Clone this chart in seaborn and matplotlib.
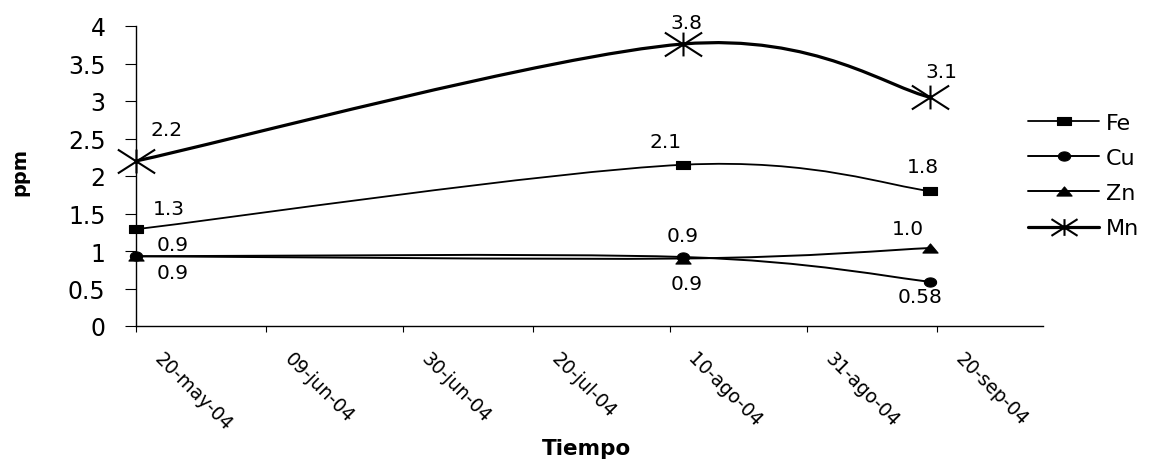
import numpy as np
import pandas as pd
import matplotlib
matplotlib.use("Agg")
import matplotlib.pyplot as plt
import matplotlib.dates as mdates
import matplotlib.transforms as mtrans
from matplotlib.path import Path
from matplotlib.patches import PathPatch
from matplotlib.lines import Line2D
import seaborn as sns

# ---------------- data ----------------
fechas = ["2004-05-20", "2004-08-12", "2004-09-19"]
fe = [1.29, 2.15, 1.80]
cu = [0.93, 0.92, 0.59]
zn = [0.93, 0.90, 1.04]
mn = [2.20, 3.76, 3.05]
etiquetas_fe = ["1.3", "2.1", "1.8"]
etiquetas_cu = ["0.9", "0.9", "0.58"]
etiquetas_zn = ["0.9", "0.9", "1.0"]
etiquetas_mn = ["2.2", "3.8", "3.1"]
tick_fechas = ["2004-05-20", "2004-06-09", "2004-06-30", "2004-07-20",
               "2004-08-10", "2004-08-31", "2004-09-20"]
tick_etiquetas = ["20-may-04", "09-jun-04", "30-jun-04", "20-jul-04",
                  "10-ago-04", "31-ago-04", "20-sep-04"]
y_ticks = [0, 0.5, 1, 1.5, 2, 2.5, 3, 3.5, 4]
y_etiquetas = ["0", "0.5", "1", "1.5", "2", "2.5", "3", "3.5", "4"]
elementos = ["Fe", "Cu", "Zn", "Mn"]

# ---------------- style ----------------
sns.set_theme(style="white")
plt.rcParams["font.family"] = ["DejaVu Sans"]
plt.rcParams["text.color"] = "black"
plt.rcParams["axes.labelcolor"] = "black"
plt.rcParams["xtick.color"] = "black"
plt.rcParams["ytick.color"] = "black"

# custom (horizontally stretched) markers
sq = Path([(-1, -0.6), (1, -0.6), (1, 0.6), (-1, 0.6), (-1, -0.6)],
          [Path.MOVETO, Path.LINETO, Path.LINETO, Path.LINETO, Path.CLOSEPOLY])
t = np.linspace(0, 2 * np.pi, 40)
circ = Path(np.column_stack([np.cos(t), 0.75 * np.sin(t)]))
tri = Path([(-1, -0.6), (1, -0.6), (0, 0.6), (-1, -0.6)],
           [Path.MOVETO, Path.LINETO, Path.LINETO, Path.CLOSEPOLY])
star = Path([(-1, -0.64), (1, 0.64), (-1, 0.64), (1, -0.64), (0, -0.64), (0, 0.64)],
            [Path.MOVETO, Path.LINETO, Path.MOVETO, Path.LINETO, Path.MOVETO, Path.LINETO])

estilos = {
    "Fe": dict(marker=sq, s=100, lw=1.3, filled=True),
    "Cu": dict(marker=circ, s=78, lw=1.4, filled=True),
    "Zn": dict(marker=tri, s=120, lw=1.4, filled=True),
    "Mn": dict(marker=star, s=720, lw=2.3, filled=False),
}

x = pd.to_datetime(fechas)
series = {"Fe": fe, "Cu": cu, "Zn": zn, "Mn": mn}
etiquetas = {"Fe": etiquetas_fe, "Cu": etiquetas_cu, "Zn": etiquetas_zn, "Mn": etiquetas_mn}

df = pd.DataFrame({
    "fecha": np.tile(x, len(elementos)),
    "ppm": fe + cu + zn + mn,
    "elemento": np.repeat(elementos, len(fechas)),
})

fig = plt.figure(figsize=(11.55, 4.6), dpi=100)
ax = fig.add_axes([136 / 1155, 1 - 327 / 460, (1043 - 136) / 1155, 300 / 460])


def smooth_path(xs, ys):
    pts = np.column_stack([xs, ys])
    n = len(pts)
    verts = [pts[0]]
    codes = [Path.MOVETO]
    for i in range(n - 1):
        p0 = pts[max(i - 1, 0)]
        p1 = pts[i]
        p2 = pts[i + 1]
        p3 = pts[min(i + 2, n - 1)]
        verts += [p1 + (p2 - p0) / 6, p2 - (p3 - p1) / 6, p2]
        codes += [Path.CURVE4] * 3
    return Path(verts, codes)


xnum = mdates.date2num(x)
for el in elementos:
    st = estilos[el]
    sub = df[df["elemento"] == el]
    ax.add_patch(PathPatch(smooth_path(xnum, sub["ppm"].values), fill=False,
                           edgecolor="black", lw=st["lw"], zorder=2, clip_on=False))
    sns.scatterplot(data=sub, x="fecha", y="ppm", marker=st["marker"], s=st["s"],
                    color="black", edgecolor="black",
                    linewidth=1.5 if not st["filled"] else 0.8,
                    ax=ax, legend=False, zorder=3)
for coll in ax.collections:
    coll.set_clip_on(False)

# data labels (offsets in pixels: dx right, dy down)
offs = {
    "Mn": [(31, -31), (4, -21), (11, -26)],
    "Fe": [(33, -21), (-17, -23), (-7, -24)],
    "Cu": [(37, -12), (0, -21), (-10, 15)],
    "Zn": [(37, 16), (4, 25), (-22, -19)],
}
for el in elementos:
    for xi, yi, lab, (dx, dy) in zip(x, series[el], etiquetas[el], offs[el]):
        ax.annotate(lab, xy=(xi, yi), xytext=(dx * 0.72, -dy * 0.72),
                    textcoords="offset points", ha="center", va="center",
                    fontsize=14.5, color="black")

# axes
x0 = mdates.date2num(pd.Timestamp("2004-05-20"))
ax.set_xlim(x0, x0 + 139.3)
ax.set_ylim(0, 4)
ax.set_yticks(y_ticks)
ax.set_yticklabels(y_etiquetas, fontsize=17)
ax.set_xticks(pd.to_datetime(tick_fechas))
ax.set_xticklabels(tick_etiquetas, fontsize=13.5, rotation=-45, ha="left", va="top",
                   rotation_mode="anchor")

ax.tick_params(axis="y", direction="out", length=8, width=0.8, pad=14, colors="black")
ax.tick_params(axis="x", direction="out", length=4, width=0.8, pad=12, colors="black")
ax.yaxis.set_ticks_position("left")
ax.xaxis.set_ticks_position("bottom")
shift = mtrans.ScaledTranslation(28 / 100, 0, fig.dpi_scale_trans)
for tk in ax.xaxis.get_major_ticks():
    tk.label1.set_transform(tk.label1.get_transform() + shift)

for side in ["top", "right"]:
    ax.spines[side].set_visible(False)
for side in ["left", "bottom"]:
    ax.spines[side].set_color("black")
    ax.spines[side].set_linewidth(1.0)
ax.grid(False)
ax.set_xlabel("")
ax.set_ylabel("")
ax.patch.set_alpha(0)

fig.text(20 / 1155, 1 - 172 / 460, "ppm", rotation=90, ha="center", va="center",
         fontsize=14, fontweight="bold", color="black")
fig.text(587 / 1155, 1 - 455 / 460, "Tiempo", ha="center", va="baseline",
         fontsize=15.5, fontweight="bold", color="black")

# legend
handles = []
for el in elementos:
    st = estilos[el]
    handles.append(Line2D([], [], color="black", lw=st["lw"], marker=st["marker"],
                          markersize=np.sqrt(st["s"]) * (0.7 if el == "Mn" else 1.0),
                          markerfacecolor="black", markeredgecolor="black",
                          markeredgewidth=1.5 if el == "Mn" else 0.8, label=el))
fig.legend(handles=handles, loc="upper left", bbox_to_anchor=(1028 / 1155, 1 - 114 / 460),
           frameon=False, fontsize=16, handlelength=3.2, handletextpad=0.3,
           labelspacing=0.68, borderaxespad=0, borderpad=0, labelcolor="black")

fig.savefig("out.png", dpi=100)
